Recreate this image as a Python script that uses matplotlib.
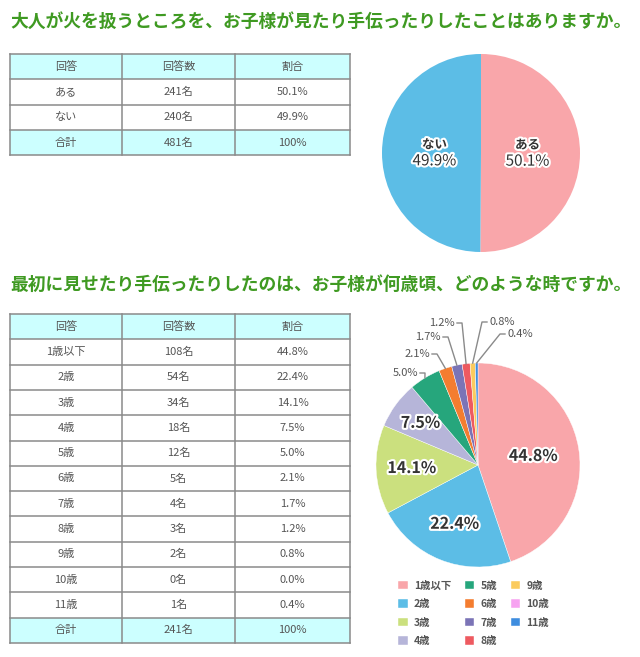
import matplotlib
matplotlib.use('Agg')
import matplotlib.pyplot as plt
import matplotlib.patheffects as pe
from matplotlib.patches import Rectangle
import numpy as np

plt.rcParams['font.family'] = ['Noto Sans CJK JP', 'DejaVu Sans']

# ---------------- data ----------------
title1 = '大人が火を扱うところを、お子様が見たり手伝ったりしたことはありますか。'
title2 = '最初に見せたり手伝ったりしたのは、お子様が何歳頃、どのような時ですか。'
header = ['回答', '回答数', '割合']

q1_labels = ['ある', 'ない']
q1_counts = [241, 240]
q1_pcts = [50.1, 49.9]
q1_total = 481

q2_labels = ['1歳以下', '2歳', '3歳', '4歳', '5歳', '6歳', '7歳', '8歳', '9歳', '10歳', '11歳']
q2_counts = [108, 54, 34, 18, 12, 5, 4, 3, 2, 0, 1]
q2_pcts = [44.8, 22.4, 14.1, 7.5, 5.0, 2.1, 1.7, 1.2, 0.8, 0.0, 0.4]
q2_total = 241

colors = ['#f9a6aa', '#5cbde6', '#cbe07e', '#b6b5d9', '#26a67c', '#f47d30',
          '#7b74b6', '#ee5a60', '#fbcb5e', '#f7a3f1', '#3e8ddf']

# ---------------- layout ----------------
W, H = 640, 657
fig = plt.figure(figsize=(W / 100, H / 100), dpi=100)
ax = fig.add_axes([0, 0, 1, 1])
ax.set_axis_off()

def Y(y):
    return H - y

GREEN = '#3f9a22'
TXT = '#555555'
LINE = '#8a8a8a'
CYAN = '#ccffff'

ax.text(10, Y(22), title1, fontsize=12.8, fontweight='bold', color=GREEN,
        ha='left', va='center')
ax.text(10, Y(285), title2, fontsize=12.8, fontweight='bold', color=GREEN,
        ha='left', va='center')

col_x = [10, 122, 235, 350]

def draw_table(top, rows, row_h):
    n = len(rows)
    for i, row in enumerate(rows):
        y0 = top + i * row_h
        fill = CYAN if (i == 0 or i == n - 1) else 'white'
        ax.add_patch(Rectangle((col_x[0], Y(y0 + row_h)), col_x[-1] - col_x[0], row_h,
                               facecolor=fill, edgecolor='none', zorder=1))
        for j, cell in enumerate(row):
            xc = (col_x[j] + col_x[j + 1]) / 2
            ax.text(xc, Y(y0 + row_h / 2), cell, fontsize=8, color=TXT,
                    ha='center', va='center', zorder=3)
    for i in range(n + 1):
        y = top + i * row_h
        ax.plot([col_x[0], col_x[-1]], [Y(y), Y(y)], color=LINE, lw=1.1, zorder=2)
    for x in col_x:
        ax.plot([x, x], [Y(top), Y(top + n * row_h)], color=LINE, lw=1.1, zorder=2)

rows1 = [header] + [[l, f'{c}名', f'{p}%'] for l, c, p in zip(q1_labels, q1_counts, q1_pcts)] \
        + [['合計', f'{q1_total}名', '100%']]
draw_table(54, rows1, 25.3)

rows2 = [header] + [[l, f'{c}名', f'{p}%'] for l, c, p in zip(q2_labels, q2_counts, q2_pcts)] \
        + [['合計', f'{q2_total}名', '100%']]
draw_table(314, rows2, 25.3)

outline = [pe.withStroke(linewidth=3, foreground='white')]

# ---------------- pie 1 ----------------
c1 = (481, Y(153)); r1 = 99
w1, _ = ax.pie(q1_counts, colors=colors[:2], startangle=90, counterclock=False,
               center=c1, radius=r1, wedgeprops=dict(edgecolor='none'))
for w, lab, p in zip(w1, q1_labels, q1_pcts):
    ang = np.deg2rad((w.theta1 + w.theta2) / 2)
    x = c1[0] + 0.47 * r1 * np.cos(ang)
    y = c1[1] + 0.47 * r1 * np.sin(ang)
    ax.text(x, y + 8, lab, fontsize=9, fontweight='bold', color='#333333',
            ha='center', va='center', path_effects=outline, zorder=5)
    ax.text(x, y - 8, f'{p}%', fontsize=11, color='#333333',
            ha='center', va='center', path_effects=outline, zorder=5)

# ---------------- pie 2 ----------------
c2 = (478, Y(465)); r2 = 102
w2, _ = ax.pie(q2_counts, colors=colors, startangle=90, counterclock=False,
               center=c2, radius=r2, wedgeprops=dict(edgecolor='white', linewidth=0.3))

inner = {0: 0.55, 1: 0.62, 2: 0.65, 3: 0.70}
# outer label anchor points (pixel layout): index -> (x, y, ha)
outer = {4: (418, 373, 'right'), 5: (430, 354, 'right'), 6: (441, 337, 'right'),
         7: (455, 323, 'right'), 8: (489, 322, 'left'), 10: (507, 334, 'left')}

for i, w in enumerate(w2):
    if q2_counts[i] == 0:
        continue
    ang = np.deg2rad((w.theta1 + w.theta2) / 2)
    if i in inner:
        d = inner[i] * r2
        ax.text(c2[0] + d * np.cos(ang), c2[1] + d * np.sin(ang), f'{q2_pcts[i]}%',
                fontsize=11.5, fontweight='bold', color='#333333',
                ha='center', va='center', path_effects=outline, zorder=5)
    elif i in outer:
        tx, ty, ha = outer[i]
        ty = Y(ty)
        ax.text(tx, ty, f'{q2_pcts[i]}%', fontsize=8, color=TXT, ha=ha, va='center', zorder=5)
        sx = tx + 2 if ha == 'right' else tx - 2
        ex = sx + 5 if ha == 'right' else sx - 5
        px = c2[0] + 1.0 * r2 * np.cos(ang)
        py = c2[1] + 1.0 * r2 * np.sin(ang)
        ax.plot([sx, ex, px], [ty, ty, py], color=LINE, lw=1.0, zorder=4)

ax.set_xlim(0, W)
ax.set_ylim(0, H)
ax.set_aspect('auto')

leg = ax.legend(w2, q2_labels, ncol=3, loc='upper left',
                bbox_to_anchor=(389, Y(571)), bbox_transform=ax.transData,
                frameon=False, handlelength=0.9, handleheight=0.9,
                handletextpad=0.6, labelspacing=0.82, columnspacing=1.3,
                prop=dict(size=7.5, weight='bold'))
for t in leg.get_texts():
    t.set_color(TXT)

fig.savefig('out.png', dpi=100)
